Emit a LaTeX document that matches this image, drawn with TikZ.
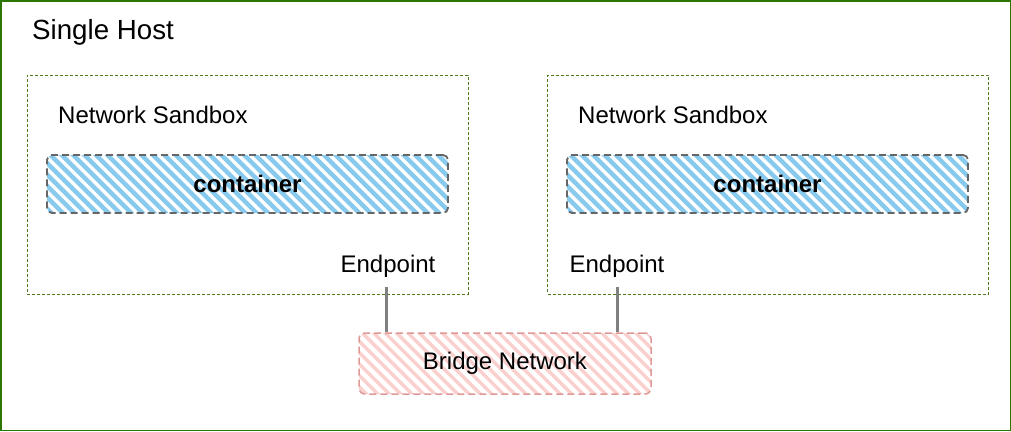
\documentclass[tikz,border=0pt]{standalone}
\usepackage{fontspec}
\setmainfont{Liberation Sans}

\definecolor{hostgreen}{RGB}{45,118,0}
\definecolor{sandgreen}{RGB}{77,122,26}
\definecolor{boxgray}{RGB}{102,102,102}
\definecolor{stripeblue}{RGB}{135,202,238}
\definecolor{stripepink}{RGB}{249,208,206}
\definecolor{bridgered}{RGB}{222,152,150}
\definecolor{linkgray}{RGB}{128,128,128}

\begin{document}
\begin{tikzpicture}[x=1pt, y=-1pt,
    hatch/.style 2 args={path picture={
        \foreach \k in {0,...,42}
          \draw[#1, solid, line width=#2] ([xshift=\k*11.4pt-70pt, yshift=5pt]path picture bounding box.north west) -- ++(80pt,-80pt);
    }},
    host/.style={draw=hostgreen, line width=1.5pt},
    sandbox/.style={draw=sandgreen, dash pattern=on 3pt off 2pt, line width=0.9pt, minimum width=441pt, minimum height=219pt, inner sep=0pt},
    container/.style={draw=boxgray, dash pattern=on 7pt off 4pt, line width=1.8pt, rounded corners=5pt,
        hatch={stripeblue}{4.4pt},
        minimum width=401pt, minimum height=58pt, font=\fontsize{24}{28}\selectfont\bfseries},
    bridge/.style={draw=bridgered, dash pattern=on 7pt off 4pt, line width=1.5pt, rounded corners=6pt,
        hatch={stripepink}{3.4pt},
        minimum width=292pt, minimum height=61pt, font=\fontsize{24}{28}\selectfont},
    label/.style={font=\fontsize{24}{28}\selectfont, inner sep=0pt},
    link/.style={draw=linkgray, line width=3pt}
]
\useasboundingbox (0,0) rectangle (1011,431);
\draw[host] (0.75,0.75) rectangle (1010.25,430.25);
\node[label, anchor=west, font=\fontsize{27.7}{32}\selectfont] (title) at (32,32) {Single Host};

% sandboxes
\node[sandbox] (sbleft) at (247.5,184.5) {};
\node[sandbox] (sbright) at (768,184.5) {};
\node[label, anchor=west] (nsleft) at (58,115) {Network Sandbox};
\node[label, anchor=west] (nsright) at (578,115) {Network Sandbox};

% containers
\node[container] (ctleft) at (247.5,184) {container};
\node[container] (ctright) at (767.5,184) {container};

% endpoints
\node[label] (epleft) at (388,266) {Endpoint};
\node[label] (epright) at (617,266) {Endpoint};

% bridge
\node[bridge] (bridge) at (505,363.5) {Bridge Network};

\draw[link] ([xshift=-2pt,yshift=-10pt]epleft.south) -- ([xshift=-2pt]epleft.south |- bridge.north);
\draw[link] ([yshift=-10pt]epright.south) -- (epright.south |- bridge.north);

\end{tikzpicture}
\end{document}
